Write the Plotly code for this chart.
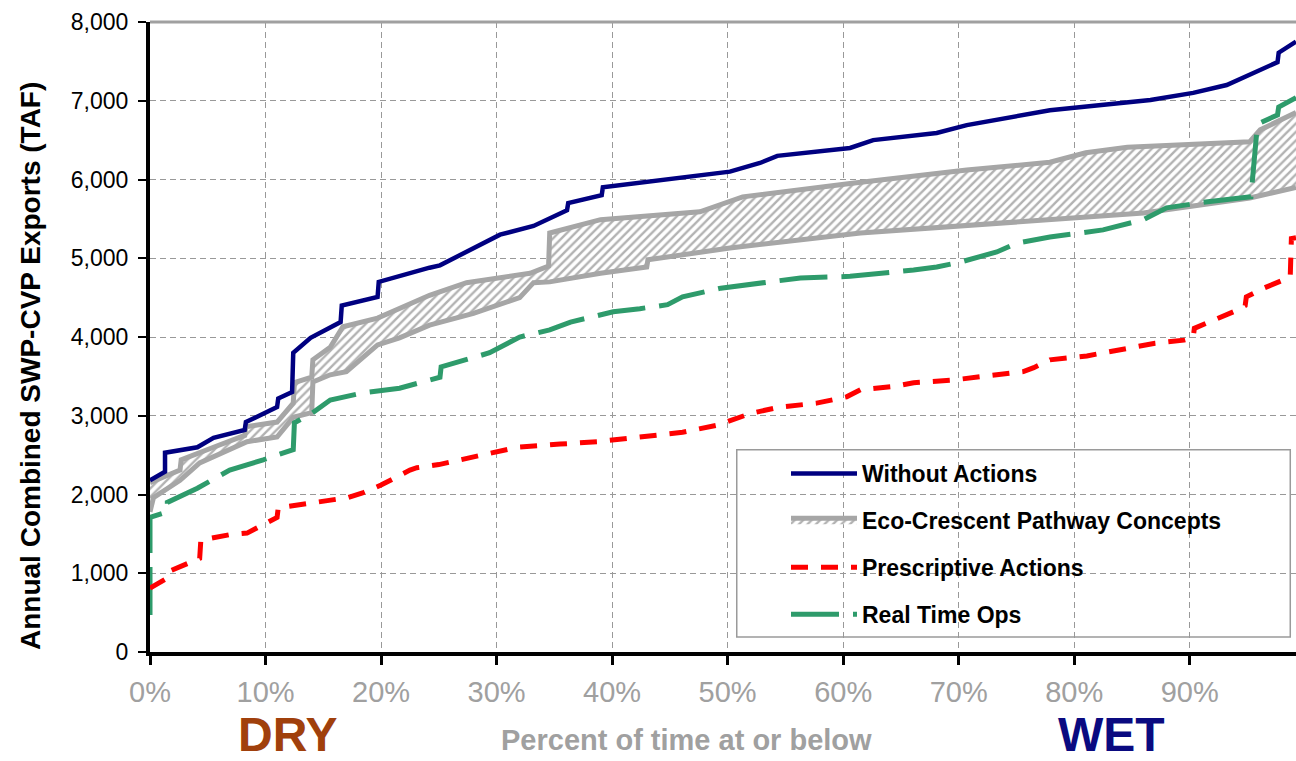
import plotly.graph_objects as go

# ---- data (percent of time at or below, TAF) ----
without_x = [0, 1.3, 1.3, 4.1, 5.5, 8.2, 8.3, 11.0, 11.1, 12.3, 12.4, 13.9, 16.5, 16.6, 19.7, 19.8,
             24.2, 25.1, 30.3, 33.2, 36.1, 36.2, 39.1, 39.2, 50.2, 52.8, 54.3, 60.6, 62.6, 68.1,
             70.7, 77.9, 86.6, 90.3, 93.2, 97.6, 97.7, 99.2]
without_y = [2180, 2290, 2530, 2600, 2720, 2820, 2920, 3110, 3220, 3300, 3800, 3990, 4190, 4400, 4510, 4700,
             4880, 4910, 5300, 5410, 5610, 5700, 5800, 5900, 6100, 6210, 6300, 6400, 6500, 6590,
             6690, 6880, 7010, 7100, 7200, 7490, 7610, 7750]

eco_upper_x = [0, 2.6, 2.7, 4.3, 5.5, 8.2, 8.3, 11.0, 12.4, 12.5, 14.0, 14.1, 15.6, 16.7, 19.7, 24.2,
               27.4, 32.9, 34.5, 34.6, 39.0, 47.6, 51.3, 60.6, 70.7, 77.9, 81.0, 84.6, 95.2, 96.1, 99.2]
eco_upper_y = [2150, 2310, 2440, 2540, 2600, 2750, 2860, 2920, 3160, 3420, 3490, 3710, 3870, 4130, 4240, 4530,
               4690, 4810, 4900, 5320, 5490, 5590, 5780, 5950, 6120, 6220, 6340, 6410, 6480, 6630, 6850]
eco_lower_x = [0, 0.3, 2.6, 4.3, 8.4, 11.0, 12.4, 14.0, 14.1, 15.6, 17.0, 18.2, 19.7, 21.6, 24.2, 28.0,
               32.0, 33.2, 34.6, 39.0, 43.0, 43.1, 50.2, 61.5, 86.0, 95.2, 99.2]
eco_lower_y = [1780, 1960, 2180, 2400, 2670, 2730, 2980, 3040, 3430, 3520, 3560, 3710, 3900, 3990, 4150, 4300,
               4500, 4690, 4700, 4810, 4890, 4980, 5130, 5320, 5575, 5765, 5900]

presc_x = [0, 1.5, 1.6, 4.3, 4.4, 6.9, 8.4, 11.0, 11.1, 13.9, 17.1, 18.4, 20.0, 22.5, 23.1, 25.0, 29.5,
           31.8, 35.5, 38.7, 41.8, 46.1, 49.1, 50.5, 52.0, 54.5, 57.7, 60.3, 61.5, 64.3, 66.1, 69.3,
           71.6, 73.0, 75.6, 76.5, 77.9, 81.1, 82.9, 85.1, 87.0, 89.5, 90.3, 90.4, 92.4, 94.1, 94.8,
           94.9, 96.4, 98.7, 98.8, 99.2]
presc_y = [810, 940, 1020, 1190, 1420, 1490, 1510, 1710, 1830, 1890, 1960, 2020, 2120, 2310, 2340, 2380, 2520,
           2600, 2640, 2670, 2720, 2790, 2880, 2950, 3030, 3110, 3160, 3240, 3330, 3370, 3420, 3450,
           3490, 3520, 3560, 3610, 3710, 3760, 3810, 3860, 3920, 3960, 3990, 4110, 4230, 4340, 4400,
           4510, 4620, 4760, 5250, 5260]

rto_x = [0, 0, 1.5, 1.5, 4.1, 6.9, 9.8, 12.4, 12.5, 14.0, 15.6, 18.4, 21.6, 25.1, 25.2, 29.4, 32.0, 34.6,
         36.4, 40.1, 42.4, 44.8, 46.1, 49.4, 56.3, 60.6, 66.1, 68.1, 70.1, 73.3, 75.0, 77.9, 82.5,
         86.0, 88.0, 91.2, 95.3, 95.8, 96.1, 97.6, 97.7, 99.2]
rto_y = [470, 1710, 1780, 1900, 2080, 2310, 2440, 2570, 2910, 3030, 3200, 3290, 3350, 3490, 3620, 3800, 4000, 4090,
         4190, 4320, 4360, 4410, 4510, 4620, 4750, 4770, 4850, 4890, 4950, 5080, 5190, 5270, 5360,
         5490, 5640, 5710, 5780, 6600, 6720, 6820, 6920, 7040]

y_ticks = [0, 1000, 2000, 3000, 4000, 5000, 6000, 7000, 8000]
x_ticks = [0, 10, 20, 30, 40, 50, 60, 70, 80, 90]

FONT = "Arial, Liberation Sans, sans-serif"
NARROW = "Arial Narrow, Liberation Sans Narrow, Arial, sans-serif"

fig = go.Figure()

fig.add_trace(go.Scatter(
    x=eco_lower_x, y=eco_lower_y, mode="lines",
    line=dict(color="#a6a6a6", width=5), showlegend=False, hoverinfo="skip"))
fig.add_trace(go.Scatter(
    x=eco_upper_x, y=eco_upper_y, mode="lines", name="Eco-Crescent Pathway Concepts",
    line=dict(color="#a6a6a6", width=5), fill="tonexty",
    fillpattern=dict(shape="/", fgcolor="#666666", bgcolor="white", size=6, solidity=0.4),
    legendrank=2, legendgroup="b"))
fig.add_trace(go.Scatter(
    x=rto_x, y=rto_y, mode="lines", name="Real Time Ops",
    line=dict(color="#2e9b6b", width=5, dash="48px,14px"), legendrank=4, legendgroup="d"))
fig.add_trace(go.Scatter(
    x=presc_x, y=presc_y, mode="lines", name="Prescriptive Actions",
    line=dict(color="#ff0000", width=5, dash="17px,13px"), legendrank=3, legendgroup="c"))
fig.add_trace(go.Scatter(
    x=without_x, y=without_y, mode="lines", name="Without Actions",
    line=dict(color="#000080", width=4.5), legendrank=1, legendgroup="a"))

# legend frame
fig.add_shape(type="rect", xref="paper", yref="paper", x0=0.512, x1=0.995, y0=0.024, y1=0.321,
              line=dict(color="#9a9a9a", width=1.5), fillcolor="white", layer="between")
# top border
fig.add_shape(type="line", xref="paper", yref="paper", x0=0, x1=1, y0=1, y1=1,
              line=dict(color="#a0a0a0", width=3))

fig.add_annotation(text="Annual Combined SWP-CVP Exports (TAF)", xref="paper", yref="paper",
                   x=-(150 - 30) / 1146, y=(652 - 366) / 630, textangle=-90, showarrow=False,
                   xanchor="center", yanchor="middle",
                   font=dict(family=FONT, size=28, color="black", weight="bold"))
fig.add_annotation(text="Percent of time at or below", xref="paper", yref="paper",
                   x=(686 - 150) / 1146, y=-(740 - 652) / 630, showarrow=False,
                   xanchor="center", yanchor="middle",
                   font=dict(family=FONT, size=29, color="#a0a0a0", weight="bold"))
fig.add_annotation(text="DRY", xref="paper", yref="paper",
                   x=(288 - 150) / 1146, y=-(734 - 652) / 630, showarrow=False,
                   xanchor="center", yanchor="middle",
                   font=dict(family=FONT, size=48, color="#a0400c", weight="bold"))
fig.add_annotation(text="WET", xref="paper", yref="paper",
                   x=(1111 - 150) / 1146, y=-(734 - 652) / 630, showarrow=False,
                   xanchor="center", yanchor="middle",
                   font=dict(family=FONT, size=48, color="#0a0a80", weight="bold"))

fig.update_layout(
    width=1296, height=761,
    margin=dict(l=150, r=0, t=22, b=109),
    paper_bgcolor="white", plot_bgcolor="white",
    font=dict(family=FONT),
    showlegend=True,
    legend=dict(x=(786 - 150) / 1146, y=(652 - 452) / 630, xanchor="left", yanchor="top",
                bgcolor="rgba(0,0,0,0)", borderwidth=0,
                font=dict(family=FONT, size=23, color="black", weight="bold"),
                traceorder="grouped", tracegroupgap=14, itemwidth=66),
    xaxis=dict(range=[0, 99.2], tickvals=x_ticks, ticktext=[f"{v}%" for v in x_ticks],
               showgrid=True, gridcolor="#999999", griddash="6px,4px", gridwidth=1,
               showline=True, linecolor="black", linewidth=4,
               ticks="outside", ticklen=9, tickwidth=3, tickcolor="black", ticklabelstandoff=2,
               tickfont=dict(family=NARROW, size=29, color="#a0a0a0"), zeroline=False),
    yaxis=dict(range=[0, 8000], tickvals=y_ticks, tickformat=",d",
               showgrid=True, gridcolor="#999999", griddash="6px,4px", gridwidth=1,
               showline=True, linecolor="black", linewidth=4,
               ticks="outside", ticklen=8, tickwidth=2, tickcolor="black", ticklabelstandoff=5,
               tickfont=dict(family=FONT, size=23, color="black"), zeroline=False),
)

fig.write_html("out.html", config={"displayModeBar": False},
               post_script="document.body.style.margin='0px';")
